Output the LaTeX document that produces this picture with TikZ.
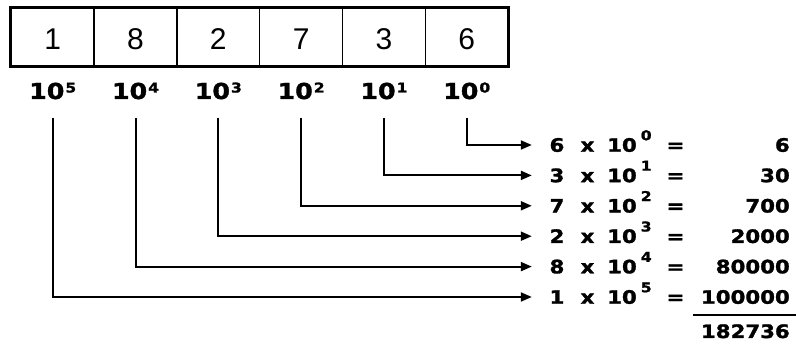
\documentclass[tikz,border=0pt]{standalone}
\usepackage{fontspec}
\setmainfont{Liberation Sans}
\newfontfamily\boldfont{DejaVu Sans}[FakeStretch=1.15, BoldFeatures={FakeStretch=1.15, FakeBold=1.5}]
\usetikzlibrary{arrows.meta}

% powers of ten: under the cells, and in the expansion rows
\newcommand\pwlab[1]{10\kern1pt\raisebox{6.5pt}{\fontsize{13.5}{13.5}\selectfont #1}}
\newcommand\pweq[1]{10\kern4pt\raisebox{11.5pt}{\fontsize{13.5}{13.5}\selectfont #1}}

\tikzset{
  cell/.style={draw, line width=1.5pt, minimum width=82.8pt, minimum height=58pt,
    inner sep=0pt, text height=25pt, text depth=0pt, font=\fontsize{30}{30}\selectfont},
  powlab/.style={anchor=base, inner sep=0pt, font=\boldfont\bfseries\fontsize{22}{22}\selectfont},
  eqtext/.style={anchor=base, inner sep=0pt, font=\boldfont\bfseries\fontsize{18.5}{18.5}\selectfont},
  eqdigit/.style={eqtext, minimum width=50pt, text height=13.5pt, text depth=0pt},
  conn/.style={line width=2pt, shorten <=18pt, -{Triangle[length=11pt,width=9pt]}},
}

\begin{document}
\begin{tikzpicture}[x=1pt, y=-1pt]
\useasboundingbox (0,0) rectangle (796,347);

% the place-value cells and their powers of ten
\foreach \dig [count=\j] in {1,8,2,7,3,6} {
  \pgfmathsetmacro\cx{11.3+82.8*(\j-0.5)}
  \pgfmathtruncatemacro\k{6-\j}
  \node[cell] (c\j) at (\cx,37) {\dig};
  \node[powlab] (p\k) at (\cx,99) {\pwlab{\k}};
}
\draw[line width=2.5pt] (c1.north west) rectangle (c6.south east);

% expansion rows: digit x 10^k = value
\foreach \d/\k/\v/\r in {6/0/6/145, 3/1/30/175.4, 7/2/700/205.8,
                         2/3/2000/236.2, 8/4/80000/266.6, 1/5/100000/297} {
  \node[eqdigit] (m\k) at (557,\r+6.75) {\d};
  \node[eqtext] (x\k) at (587.5,\r+6.75) {x};
  \node[eqtext, anchor=base west] (t\k) at (607,\r+6.75) {\pweq{\k}};
  \node[eqtext] (q\k) at (675.5,\r+6.75) {=};
  \node[eqtext, anchor=base east] (v\k) at (790,\r+6.75) {\v};
  \draw[conn] (p\k.south) |- (m\k.west);
}

% sum rule and total
\draw[line width=2.5pt] (693,315) -- (796,315);
\node[eqtext, anchor=base east] (tot) at (790,338) {182736};
\end{tikzpicture}
\end{document}
